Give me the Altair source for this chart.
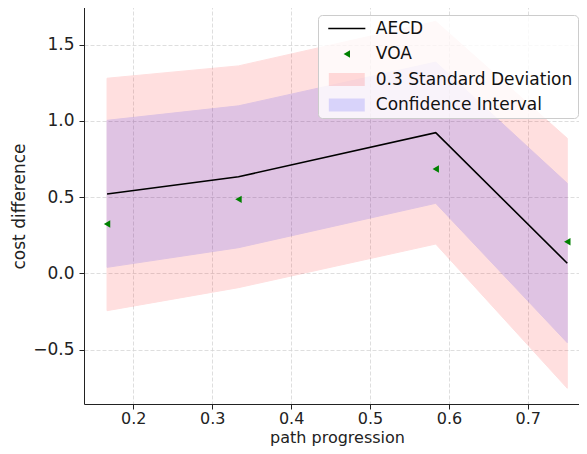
import altair as alt
import pandas as pd

# ---- data ----
progress = [0.1667, 0.3333, 0.5833, 0.75]
aecd = [0.52, 0.633, 0.922, 0.066]
voa = [0.323, 0.485, 0.684, 0.207]
sd_low = [-0.245, -0.094, 0.192, -0.754]
sd_high = [1.279, 1.36, 1.652, 0.885]
ci_low = [0.039, 0.168, 0.459, -0.455]
ci_high = [1.003, 1.098, 1.385, 0.59]
x_ticks = [0.2, 0.3, 0.4, 0.5, 0.6, 0.7]
y_ticks = [-0.5, 0.0, 0.5, 1.0, 1.5]
series_names = ["AECD", "VOA", "0.3 Standard Deviation", "Confidence Interval"]

df = pd.DataFrame({
    "x": progress, "aecd": aecd, "voa": voa,
    "sd_low": sd_low, "sd_high": sd_high,
    "ci_low": ci_low, "ci_high": ci_high,
    "series": ["VOA"] * len(progress),
})

FONT = "DejaVu Sans"
FS = 17
W, H = 506, 399

xscale = alt.Scale(domain=[0.1375, 0.7788], nice=False, zero=False)
yscale = alt.Scale(domain=[-0.8570, 1.7593], nice=False, zero=False)

common_axis = dict(
    grid=True, gridDash=[4, 2], gridColor="#d6d6d6", gridWidth=0.8,
    tickSize=5, tickColor="#222", tickWidth=1,
    domainColor="#222", domainWidth=1,
    labelFont=FONT, labelColor="#222", labelFlush=False,
    titleFont=FONT, titleFontWeight="normal", titleColor="#222",
)
xaxis = alt.Axis(values=x_ticks, format=".1f", labelPadding=1, labelFontSize=16,
                 titleX=253, titleY=38, titleBaseline="alphabetic",
                 titleFontSize=16, **common_axis)
yaxis = alt.Axis(values=y_ticks, format=".1f", labelPadding=5, labelFontSize=FS,
                 titleX=-65, titleY=201, titleBaseline="middle",
                 titleFontSize=FS, **common_axis)

X = alt.X("x:Q", scale=xscale, axis=xaxis, title="path progression")

def Y(field):
    return alt.Y(f"{field}:Q", scale=yscale, axis=yaxis, title="cost difference")

line_path = "M-5,-0.2L5,-0.2L5,0.2L-5,0.2Z"
rect_path = "M-4.85,-1.75L4.85,-1.75L4.85,1.75L-4.85,1.75Z"

legend = alt.Legend(
    title=None, orient="none", legendX=234, legendY=10, direction="vertical",
    fillColor="rgba(255,255,255,0.8)", strokeColor="#cccccc", cornerRadius=4,
    padding=5, labelFont=FONT, labelFontSize=FS, labelColor="#111",
    labelLimit=400, labelOffset=20.5, symbolOffset=15.3, symbolSize=55,
    rowPadding=7.5, symbolStrokeWidth=0,
)

sd = alt.Chart(df).mark_area(
    color="#ff0000", opacity=0.12, stroke="#ff0000", strokeWidth=1
).encode(x=X, y=Y("sd_low"), y2="sd_high:Q")

ci = alt.Chart(df).mark_area(
    color="#0000ff", opacity=0.12, stroke="#0000ff", strokeWidth=1
).encode(x=X, y=Y("ci_low"), y2="ci_high:Q")

line = alt.Chart(df).mark_line(color="black", strokeWidth=1.6).encode(x=X, y=Y("aecd"))

pts = alt.Chart(df).mark_point(filled=True, opacity=1, size=55).encode(
    x=X, y=Y("voa"),
    color=alt.Color("series:N", scale=alt.Scale(
        domain=series_names,
        range=["black", "green", "rgba(255,0,0,0.13)", "rgba(0,0,255,0.13)"]),
        legend=legend),
    shape=alt.Shape("series:N", scale=alt.Scale(
        domain=series_names,
        range=[line_path, "triangle-left", rect_path, rect_path]),
        legend=legend),
)

top_border = alt.Chart(df).mark_rule(color="#222", strokeWidth=1).encode(
    x=alt.value(0), x2=alt.value(W), y=alt.value(0.5)
)

chart = alt.layer(sd, ci, line, pts, top_border).properties(
    width=W, height=H,
    autosize=alt.AutoSizeParams(type="none"),
    padding={"left": 76, "top": -3, "right": -11, "bottom": 42},
).configure_view(stroke=None)

chart.save("out.html", embed_options={"renderer": "svg", "actions": False})
